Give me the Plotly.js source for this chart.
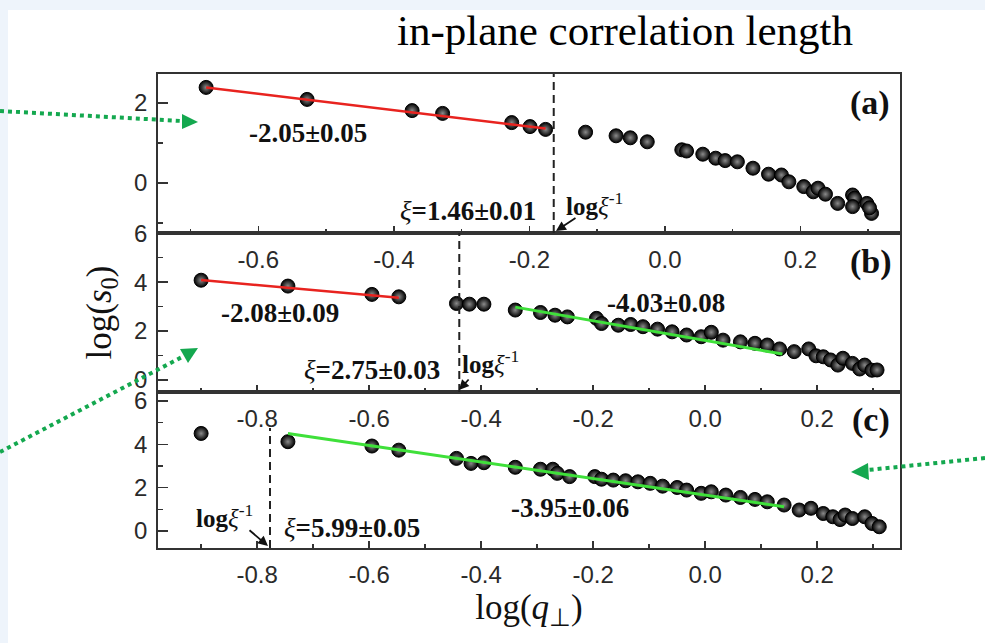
<!DOCTYPE html>
<html><head><meta charset="utf-8">
<script src="https://cdn.plot.ly/plotly-3.0.1.min.js"></script>
<style>html,body{margin:0;padding:0;background:#fff}#chart{width:985px;height:643px}</style>
</head><body><div id="chart"></div>
<script>
// ---------- data ----------
const aX = [-0.677,-0.528,-0.373,-0.328,-0.226,-0.199,-0.176,-0.117,-0.072,-0.051,-0.026,0.025,0.032,0.056,0.075,0.089,0.107,0.130,0.153,0.172,0.183,0.205,0.219,0.226,0.237,0.255,0.277,0.280,0.277,0.298,0.305,0.302];
const aY = [2.39,2.09,1.81,1.74,1.51,1.41,1.34,1.27,1.18,1.13,1.03,0.83,0.80,0.72,0.62,0.56,0.53,0.37,0.22,0.20,0.03,-0.09,-0.22,-0.13,-0.28,-0.51,-0.30,-0.38,-0.59,-0.51,-0.76,-0.62];
const aFitX = [-0.677,-0.176];
const aFitY = [2.39,1.36];

const bX = [-0.900,-0.745,-0.595,-0.547,-0.444,-0.421,-0.395,-0.339,-0.294,-0.268,-0.246,-0.194,-0.185,-0.155,-0.133,-0.111,-0.085,-0.059,-0.033,-0.007,0.011,0.032,0.063,0.089,0.111,0.133,0.159,0.185,0.198,0.211,0.224,0.237,0.246,0.263,0.276,0.285,0.298,0.307];
const bY = [4.08,3.84,3.50,3.40,3.13,3.10,3.10,2.86,2.76,2.65,2.58,2.52,2.31,2.24,2.27,2.18,2.08,1.97,1.84,1.77,1.95,1.63,1.56,1.50,1.43,1.27,1.16,1.27,0.99,0.95,0.82,0.61,0.89,0.68,0.45,0.61,0.40,0.41];
const bRedFitX = [-0.900,-0.547];
const bRedFitY = [4.09,3.36];
const bGreenFitX = [-0.339,0.138];
const bGreenFitY = [2.98,1.06];

const cX = [-0.900,-0.745,-0.595,-0.547,-0.444,-0.418,-0.395,-0.339,-0.294,-0.272,-0.264,-0.242,-0.197,-0.185,-0.164,-0.142,-0.120,-0.098,-0.076,-0.050,-0.033,-0.007,0.011,0.037,0.063,0.089,0.111,0.141,0.168,0.189,0.211,0.228,0.241,0.250,0.263,0.285,0.298,0.311];
const cY = [4.50,4.12,3.92,3.73,3.35,3.12,3.15,2.94,2.85,2.85,2.66,2.51,2.51,2.39,2.35,2.32,2.27,2.20,2.07,2.01,1.89,1.74,1.81,1.66,1.55,1.46,1.35,1.20,0.97,1.05,0.81,0.66,0.53,0.74,0.58,0.66,0.35,0.20];
const cFitX = [-0.745,0.141];
const cFitY = [4.50,1.12];

const xiLineX = [-0.164,-0.439,-0.777];          // log(1/xi) for each panel
const slopeText = ['-2.05±0.05','-2.08±0.09','-4.03±0.08','-3.95±0.06'];
const xiText = ['1.46±0.01','2.75±0.03','5.99±0.05'];
const panelText = ['(a)','(b)','(c)'];
const xTicksA = [-0.6,-0.4,-0.2,0,0.2];
const xTickTextA = ['-0.6','-0.4','-0.2','0.0','0.2'];
const xTicksBC = [-0.8,-0.6,-0.4,-0.2,0,0.2];
const xTickTextBC = ['-0.8','-0.6','-0.4','-0.2','0.0','0.2'];
const yTicksA = [0,2];
const yTicksBC = [0,2,4,6];
const titleText = 'in-plane correlation length';

// ---------- layout helpers ----------
const W=985,H=643,L=158,R=900,T=74,B=548;
const px = v => (v-L)/(R-L);
const py = v => (B-v)/(B-T);
const LINE='#333', TICKF={family:'Liberation Sans, Arial, sans-serif',size:24,color:'#2a2a2a'};
const SERIF='Liberation Serif, Times New Roman, serif';

function xAx(range, vals, text, anchor){
  return {domain:[0,1],range:range,anchor:anchor,tickmode:'array',tickvals:vals,ticktext:text,
    ticks:'inside',ticklen:7,tickwidth:1.5,tickcolor:LINE,
    minor:{ticks:'inside',ticklen:4,tickwidth:1.5,tickcolor:LINE,tickmode:'linear',tick0:0,dtick:0.1},
    showline:true,mirror:true,linecolor:LINE,linewidth:1.8,showgrid:false,zeroline:false,
    tickfont:TICKF,ticklabelstandoff:4,fixedrange:true};
}
function yAx(domain, range, vals, anchor){
  return {domain:domain,range:range,anchor:anchor,tickmode:'array',tickvals:vals,ticktext:vals.map(String),
    ticks:'inside',ticklen:10,tickwidth:1.5,tickcolor:LINE,
    minor:{ticks:'inside',ticklen:5,tickwidth:1.5,tickcolor:LINE,tickmode:'linear',tick0:0,dtick:1},
    showline:true,mirror:true,linecolor:LINE,linewidth:1.8,showgrid:false,zeroline:false,
    tickfont:TICKF,ticklabelstandoff:4,fixedrange:true};
}
const marker = {size:14,color:'#000',gradient:{type:'radial',color:'#8a8a8a'},line:{color:'#000',width:1}};
const sc = (x,y,xa,ya) => ({x:x,y:y,xaxis:xa,yaxis:ya,type:'scatter',mode:'markers',marker:marker,hoverinfo:'skip',showlegend:false});
const ln = (x,y,xa,ya,col,w) => ({x:x,y:y,xaxis:xa,yaxis:ya,type:'scatter',mode:'lines',line:{color:col,width:w},hoverinfo:'skip',showlegend:false});

const RED='#e8231f', GREEN='#3fe03a';
const data = [
  sc(aX,aY,'x','y'), ln(aFitX,aFitY,'x','y',RED,2.5),
  sc(bX,bY,'x2','y2'), ln(bRedFitX,bRedFitY,'x2','y2',RED,2.5), ln(bGreenFitX,bGreenFitY,'x2','y2',GREEN,3),
  sc(cX,cY,'x3','y3'), ln(cFitX,cFitY,'x3','y3',GREEN,3)
];

const dA=[py(233),1], dB=[py(392),py(233)], dC=[0,py(392)];
const yA = yAx(dA,[-1.25,2.725],yTicksA,'x');
const yB = yAx(dB,[-0.49,6.01],yTicksBC,'x2');
yB.title = {text:'log(<i>s</i><sub>0</sub>)',font:{family:SERIF,size:35,color:'#111'},standoff:12};
const yC = yAx(dC,[-0.78,6.41],yTicksBC,'x3');
const xA = xAx([-0.748,0.347],xTicksA,xTickTextA,'y');
const xB = xAx([-0.977,0.348],xTicksBC,xTickTextBC,'y2');
const xC = xAx([-0.977,0.348],xTicksBC,xTickTextBC,'y3');
xC.title = {text:'log(<i>q</i><sub>⊥</sub>)',font:{family:SERIF,size:35,color:'#111'},standoff:2};

const BG='#eef4fb', GR='#14a84f';
const shapes = [
  {type:'rect',xref:'paper',yref:'paper',x0:px(0),x1:px(W),y0:py(0),y1:py(10),fillcolor:BG,line:{width:0},layer:'below'},
  {type:'rect',xref:'paper',yref:'paper',x0:px(0),x1:px(8),y0:py(0),y1:py(H),fillcolor:BG,line:{width:0},layer:'below'},
  {type:'line',xref:'x',yref:'y domain',x0:xiLineX[0],x1:xiLineX[0],y0:0,y1:1,line:{color:'#222',width:2,dash:'8px,5px'}},
  {type:'line',xref:'x2',yref:'y2 domain',x0:xiLineX[1],x1:xiLineX[1],y0:0,y1:1,line:{color:'#222',width:2,dash:'8px,5px'}},
  {type:'line',xref:'x3',yref:'y3 domain',x0:xiLineX[2],x1:xiLineX[2],y0:0,y1:(548-428)/156,line:{color:'#222',width:2,dash:'8px,5px'}},
  // green dotted slide arrows
  {type:'line',xref:'paper',yref:'paper',x0:px(0),y0:py(111),x1:px(182),y1:py(121),line:{color:GR,width:4,dash:'dot'}},
  {type:'path',xref:'paper',yref:'paper',path:`M${px(182)},${py(114)} L${px(198)},${py(122)} L${px(182)},${py(129)} Z`,fillcolor:GR,line:{width:0}},
  {type:'line',xref:'paper',yref:'paper',x0:px(0),y0:py(452),x1:px(184),y1:py(356),line:{color:GR,width:4,dash:'dot'}},
  {type:'path',xref:'paper',yref:'paper',path:`M${px(180)},${py(349)} L${px(198)},${py(348)} L${px(188)},${py(363)} Z`,fillcolor:GR,line:{width:0}},
  {type:'line',xref:'paper',yref:'paper',x0:px(985),y0:py(458),x1:px(868),y1:py(470),line:{color:GR,width:4,dash:'dot'}},
  {type:'path',xref:'paper',yref:'paper',path:`M${px(868)},${py(463)} L${px(851)},${py(472)} L${px(869)},${py(480)} Z`,fillcolor:GR,line:{width:0}}
];

const ann = [];
const txt = (x,y,t,size) => ann.push({xref:'paper',yref:'paper',x:px(x),y:py(y),text:t,showarrow:false,xanchor:'center',yanchor:'middle',font:{family:SERIF,size:size,color:'#111'}});
const slopePos = [[308,133],[280,313],[666,303],[570,508]];
slopeText.forEach((t,i)=>txt(slopePos[i][0],slopePos[i][1],'<b>'+t+'</b>',27));
const xiPos = [[468,211],[372,370],[352,528]];
xiText.forEach((t,i)=>txt(xiPos[i][0],xiPos[i][1],'<i>ξ</i><b>='+t+'</b>',27));
const logPos = [[594,204],[490,362],[224,516]];
logPos.forEach(p=>txt(p[0],p[1],'<b>log</b><i>ξ</i><sup>-1</sup>',25));
const panPos = [[870,103],[871,262],[871,420]];
panelText.forEach((t,i)=>txt(panPos[i][0],panPos[i][1],'<b>'+t+'</b>',34));
const arrows = [[556,231,21,-14],[459,390,11,-12],[268,546,-20,-17]];
arrows.forEach(a=>ann.push({xref:'paper',yref:'paper',x:px(a[0]),y:py(a[1]),ax:a[2],ay:a[3],text:'',showarrow:true,arrowhead:2,arrowsize:1.1,arrowwidth:1.8,arrowcolor:'#111'}));

const layout = {
  width:W,height:H,margin:{l:L,r:W-R,t:T,b:H-B},
  paper_bgcolor:'#fff',plot_bgcolor:'rgba(0,0,0,0)',
  title:{text:titleText,font:{family:SERIF,size:43,color:'#000'},xref:'container',yref:'container',x:625/W,xanchor:'center',y:1-30/H,yanchor:'middle'},
  xaxis:xA,yaxis:yA,xaxis2:xB,yaxis2:yB,xaxis3:xC,yaxis3:yC,
  shapes:shapes,annotations:ann,showlegend:false
};
Plotly.newPlot('chart',data,layout,{displayModeBar:false,staticPlot:true});
</script></body></html>
